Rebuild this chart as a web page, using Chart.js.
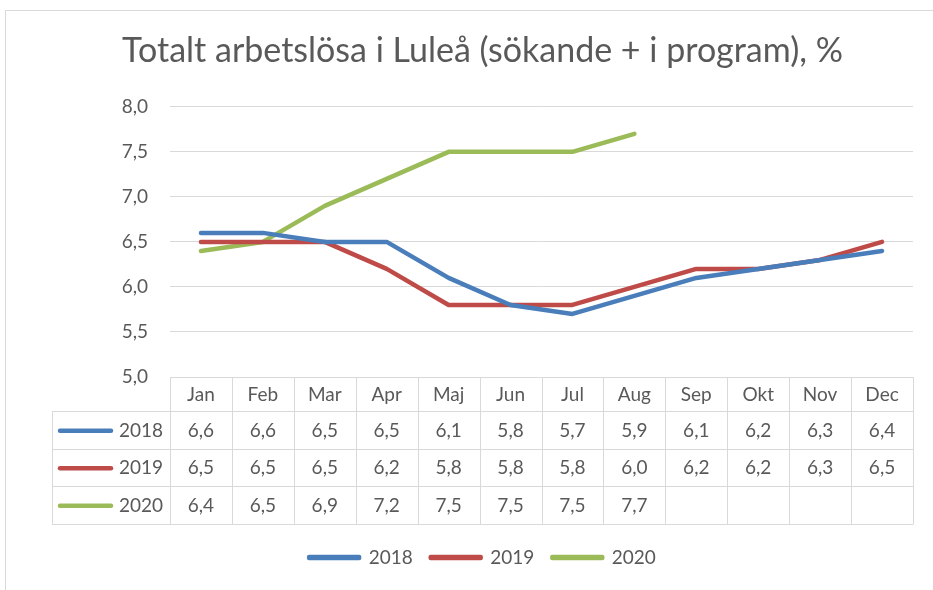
<!DOCTYPE html>
<html>
<head>
<meta charset="utf-8">
<script src="https://cdn.jsdelivr.net/npm/chart.js"></script>
<style>
html, body { margin: 0; padding: 0; background: #fff; }
</style>
</head>
<body>
<canvas id="myChart" width="933" height="590"></canvas>
<script>
// data
const months = ['Jan', 'Feb', 'Mar', 'Apr', 'Maj', 'Jun', 'Jul', 'Aug', 'Sep', 'Okt', 'Nov', 'Dec'];
const years = ['2018', '2019', '2020'];
const v2018 = [6.6, 6.6, 6.5, 6.5, 6.1, 5.8, 5.7, 5.9, 6.1, 6.2, 6.3, 6.4];
const v2019 = [6.5, 6.5, 6.5, 6.2, 5.8, 5.8, 5.8, 6.0, 6.2, 6.2, 6.3, 6.5];
const v2020 = [6.4, 6.5, 6.9, 7.2, 7.5, 7.5, 7.5, 7.7, null, null, null, null];
const yMin = 5, yMax = 8, yStep = 0.5;

const colors = ['#4a7ebb', '#be4b48', '#9bbb59'];
const textColor = '#595959';
const gridColor = '#d9d9d9';
const fontFam = 'Lato, "Open Sans", sans-serif';

Chart.defaults.font.family = fontFam;
Chart.defaults.color = textColor;

const comma = v => v.toFixed(1).replace('.', ',');

// outer frame of the chart
const framePlugin = {
  id: 'frame',
  beforeDraw(chart) {
    const ctx = chart.ctx;
    ctx.save();
    ctx.fillStyle = '#fff';
    ctx.fillRect(0, 0, chart.width, chart.height);
    ctx.strokeStyle = gridColor;
    ctx.lineWidth = 1;
    ctx.strokeRect(5.5, 10.5, 960, 620);
    ctx.restore();
  }
};

// data table under the plot
const tablePlugin = {
  id: 'dataTable',
  afterDraw(chart) {
    const ctx = chart.ctx;
    const area = chart.chartArea;
    const xs = chart.scales.x;
    const top = Math.round(area.bottom);
    const headH = 34, rowH = 37.5;
    const left = 52;
    const colW = (area.right - area.left) / months.length;
    const bottom = top + headH + rowH * 3;

    ctx.save();
    ctx.strokeStyle = gridColor;
    ctx.lineWidth = 1;
    ctx.beginPath();
    for (let r = 0; r <= 3; r++) {
      const y = Math.round(top + headH + r * rowH) + 0.5;
      ctx.moveTo(left, y);
      ctx.lineTo(area.right, y);
    }
    for (let i = 0; i <= months.length; i++) {
      const x = Math.round(area.left + i * colW) + 0.5;
      ctx.moveTo(x, top);
      ctx.lineTo(x, Math.round(bottom) + 0.5);
    }
    ctx.moveTo(left + 0.5, top + headH);
    ctx.lineTo(left + 0.5, Math.round(bottom) + 0.5);
    ctx.stroke();

    ctx.fillStyle = textColor;
    ctx.font = '19px ' + fontFam;
    ctx.textAlign = 'center';
    ctx.textBaseline = 'middle';
    months.forEach((m, i) => {
      ctx.fillText(m, xs.getPixelForValue(i), top + headH / 2 + 1);
    });

    const series = [v2018, v2019, v2020];
    series.forEach((vals, r) => {
      const cy = top + headH + r * rowH + rowH / 2 + 1;
      ctx.strokeStyle = colors[r];
      ctx.lineWidth = 4.5;
      ctx.lineCap = 'round';
      ctx.beginPath();
      ctx.moveTo(60, cy);
      ctx.lineTo(111, cy);
      ctx.stroke();
      ctx.textAlign = 'right';
      ctx.fillText(years[r], 163, cy);
      ctx.textAlign = 'center';
      vals.forEach((v, i) => {
        if (v === null) return;
        ctx.fillText(comma(v), xs.getPixelForValue(i), cy);
      });
    });
    ctx.restore();
  }
};

const ctx = document.getElementById('myChart').getContext('2d');
const chart = new Chart(ctx, {
  type: 'line',
  data: {
    labels: months,
    datasets: [v2018, v2019, v2020].map((vals, i) => ({
      label: years[i],
      data: vals,
      borderColor: colors[i],
      backgroundColor: colors[i],
      borderWidth: 4.5,
      pointRadius: 0,
      tension: 0,
      borderJoinStyle: 'round',
      borderCapStyle: 'round',
      spanGaps: false
    }))
  },
  options: {
    responsive: false,
    animation: false,
    layout: { padding: { left: 52, right: 20, top: 0, bottom: 13 } },
    scales: {
      x: {
        offset: true,
        ticks: { display: false },
        grid: { display: false },
        border: { display: false },
        afterFit: s => { s.height = 153; }
      },
      y: {
        min: yMin,
        max: yMax,
        ticks: {
          stepSize: yStep,
          padding: 22,
          font: { size: 19 },
          color: textColor,
          callback: v => comma(v)
        },
        grid: { color: gridColor, drawTicks: false },
        border: { display: false },
        afterFit: s => { s.width = 118; }
      }
    },
    plugins: {
      title: {
        display: true,
        text: 'Totalt arbetslösa i Luleå (sökande + i program), %',
        color: textColor,
        font: { size: 34, weight: 'normal' },
        padding: { top: 31, bottom: 35 }
      },
      legend: {
        position: 'bottom',
        labels: {
          boxWidth: 50,
          boxHeight: 1,
          padding: 18,
          font: { size: 19 },
          color: textColor
        }
      },
      tooltip: { enabled: false }
    }
  },
  plugins: [framePlugin, tablePlugin]
});
</script>
</body>
</html>
